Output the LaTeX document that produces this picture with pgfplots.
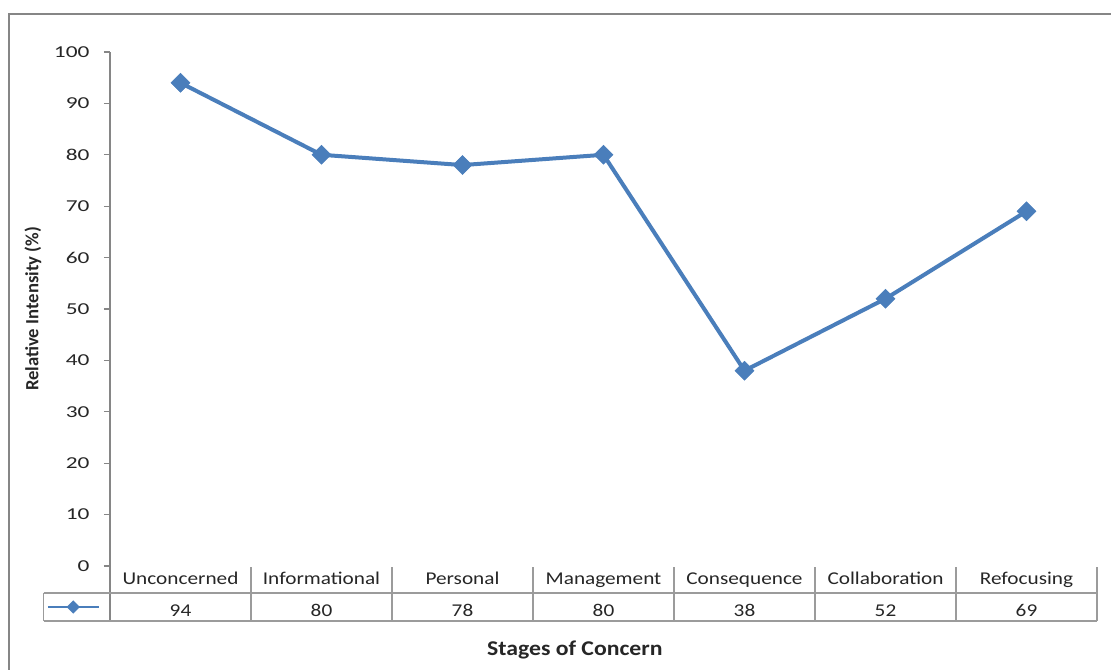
\documentclass[border=0pt]{standalone}
\usepackage{pgfplots}
\pgfplotsset{compat=1.18}
\usepackage{pgfplotstable}
\usepackage{fontspec}
\setmainfont{Carlito}

\definecolor{soc}{RGB}{74,126,187}
\definecolor{framegray}{RGB}{134,134,134}
\definecolor{tablegray}{RGB}{155,155,155}
\definecolor{txt}{RGB}{38,38,38}

% Stages of Concern profile
\pgfplotstableread{
x stage value
0 Unconcerned 94
1 Informational 80
2 Personal 78
3 Management 80
4 Consequence 38
5 Collaboration 52
6 Refocusing 69
}\socdata

\begin{document}
\begin{tikzpicture}
\useasboundingbox (-82.5pt,-78pt) rectangle (750.75pt,424.5pt);
% chart area border
\draw[framegray, line width=1.4pt] (-75.75pt,-90pt) -- (-75.75pt,414pt) -- (770pt,414pt);
\begin{axis}[
  at={(0pt,0pt)}, anchor=south west, scale only axis,
  width=740.25pt, height=385.5pt,
  xmin=-0.5, xmax=6.5, ymin=0, ymax=100,
  ytick={0,10,...,100},
  xtick=data, xticklabels from table={\socdata}{stage},
  clip=false,
  axis lines*=left,
  x axis line style={draw=none},
  y axis line style={draw=framegray, line width=1pt},
  xtick style={draw=none},
  ytick style={draw=framegray, line width=1pt},
  ytick align=outside, xtick align=inside, major tick length=4.5pt,
  /pgf/number format/assume math mode=true,
  yticklabel style={font=\fontsize{12.5}{14}\selectfont, text=txt, anchor=east, xshift=-6pt, xscale=1.4},
  xticklabel style={font=\fontsize{13.5}{16}\selectfont, text=txt, xscale=1.18, anchor=base, yshift=-14.25pt},
  ylabel={Relative Intensity (\%)},
  ylabel style={font=\bfseries\fontsize{14}{16}\selectfont, text=txt, at={(axis description cs:0,0.5)}, anchor=center, yshift=57.75pt},
  xlabel={Stages of Concern},
  xlabel style={font=\bfseries\fontsize{15.75}{18}\selectfont, text=txt, xscale=1.13, at={(axis description cs:0.5,0)}, anchor=center, xshift=-19pt, yshift=-63pt},
  legend style={at={(axis cs:-0.95,-7.98)}, anchor=west, draw=none, fill=none, inner sep=0pt, outer sep=0pt, nodes={inner sep=0pt}},
  legend image code/.code={\draw[line width=2pt, mark repeat=2, mark phase=2, mark options={rotate=45, scale=0.5}] plot coordinates {(0pt,0pt) (19pt,0pt) (38pt,0pt)};},
]
% data table grid
\draw[framegray, line width=1pt] (axis cs:-0.5,0) -- (axis cs:-0.5,-10.7);
\pgfplotsinvokeforeach{0.5,1.5,2.5,3.5,4.5,5.5,6.5}{
  \draw[tablegray, line width=1pt] (axis cs:#1,-0.2) -- (axis cs:#1,-10.7);
}
\draw[tablegray, line width=1pt] (axis cs:-0.97,-5.25) -- (axis cs:6.5,-5.25);
\draw[tablegray, line width=1pt] (axis cs:-0.97,-10.7) -- (axis cs:6.5,-10.7);
\draw[tablegray, line width=1pt] (axis cs:-0.97,-5.25) -- (axis cs:-0.97,-10.7);

\addplot[soc, line width=3pt, mark=square*, mark size=5pt,
  mark options={rotate=45, line width=0.5pt, fill=soc},
  point meta=y,
  visualization depends on={y \as \yv},
  nodes near coords={\pgfmathprintnumber{\pgfplotspointmeta}},
  nodes near coords style={anchor=base, font=\fontsize{13.5}{16}\selectfont, text=txt, xscale=1.18, inner sep=0pt,
    yshift={-(3.855*\yv+38.25)*1pt}},
] table[x=x, y=value] {\socdata};
\addlegendentry{}
\end{axis}
\end{tikzpicture}
\end{document}
